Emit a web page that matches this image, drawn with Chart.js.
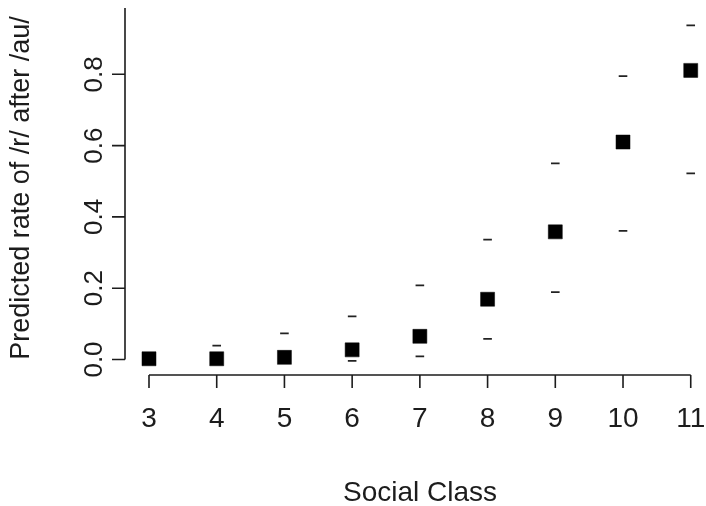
<!DOCTYPE html>
<html>
<head>
<meta charset="utf-8">
<script src="https://cdn.jsdelivr.net/npm/chart.js@4/dist/chart.umd.min.js"></script>
<style>
  html, body { margin: 0; padding: 0; background: #ffffff; }
  #wrap { width: 706px; height: 506px; }
</style>
</head>
<body>
<div id="wrap"><canvas id="c" width="706" height="506"></canvas></div>
<script>
// Social class levels and predicted rates with their interval bounds
const socialClass = [3, 4, 5, 6, 7, 8, 9, 10, 11];
const predicted   = [0.002, 0.002, 0.006, 0.027, 0.065, 0.169, 0.358, 0.610, 0.811];
const upperBound  = [0.012, 0.039, 0.073, 0.121, 0.208, 0.336, 0.550, 0.795, 0.937];
const lowerBound  = [0.000, 0.000, 0.000, -0.004, 0.009, 0.058, 0.189, 0.361, 0.522];

const xTicks = [3, 4, 5, 6, 7, 8, 9, 10, 11];
const yTicks = [0.0, 0.2, 0.4, 0.6, 0.8];
const yTickLabels = ['0.0', '0.2', '0.4', '0.6', '0.8'];
const xTitle = 'Social Class';
const yTitle = 'Predicted rate of /r/ after /au/';

const INK = '#1c1c1c';
const FONT = '"Liberation Sans", Arial, sans-serif';

const toPoints = (ys) => socialClass.map((x, i) => ({ x: x, y: ys[i] }));

// Base-graphics style axes: lines spanning the tick range, outward ticks, rotated y labels
const axesPlugin = {
  id: 'baseAxes',
  afterDraw(chart) {
    const ctx = chart.ctx;
    const xs = chart.scales.x, ys = chart.scales.y;
    const area = chart.chartArea;
    ctx.save();
    ctx.strokeStyle = INK;
    ctx.fillStyle = INK;
    ctx.lineWidth = 1.6;
    ctx.lineCap = 'butt';

    // x axis
    const xAxisY = area.bottom;
    ctx.beginPath();
    ctx.moveTo(xs.getPixelForValue(xTicks[0]), xAxisY);
    ctx.lineTo(xs.getPixelForValue(xTicks[xTicks.length - 1]), xAxisY);
    for (const t of xTicks) {
      const px = xs.getPixelForValue(t);
      ctx.moveTo(px, xAxisY);
      ctx.lineTo(px, xAxisY + 13);
    }
    ctx.stroke();

    ctx.font = '28px ' + FONT;
    ctx.textAlign = 'center';
    ctx.textBaseline = 'alphabetic';
    for (const t of xTicks) {
      ctx.fillText(String(t), xs.getPixelForValue(t), 427);
    }
    ctx.fillText(xTitle, 420, 500.5);

    // y axis
    const yAxisX = area.left;
    ctx.beginPath();
    ctx.moveTo(yAxisX, ys.getPixelForValue(yTicks[0]));
    ctx.lineTo(yAxisX, area.top);
    for (const t of yTicks) {
      const py = ys.getPixelForValue(t);
      ctx.moveTo(yAxisX, py);
      ctx.lineTo(yAxisX - 13, py);
    }
    ctx.stroke();

    ctx.font = '26px ' + FONT;
    yTicks.forEach((t, i) => {
      const py = ys.getPixelForValue(t);
      ctx.save();
      ctx.translate(101.5, py);
      ctx.rotate(-Math.PI / 2);
      ctx.textAlign = 'center';
      ctx.textBaseline = 'alphabetic';
      ctx.fillText(yTickLabels[i], 0, 0);
      ctx.restore();
    });

    ctx.font = '27px ' + FONT;
    ctx.save();
    ctx.translate(28.5, 188);
    ctx.rotate(-Math.PI / 2);
    ctx.textAlign = 'center';
    ctx.textBaseline = 'alphabetic';
    ctx.fillText(yTitle, 0, 0);
    ctx.restore();

    ctx.restore();
  }
};

new Chart(document.getElementById('c'), {
  type: 'scatter',
  data: {
    datasets: [
      {
        label: 'Predicted',
        data: toPoints(predicted),
        pointStyle: 'rect',
        pointRadius: 9.9,
        pointHoverRadius: 9.9,
        backgroundColor: '#000000',
        borderColor: '#000000',
        borderWidth: 0.5
      },
      {
        label: 'Upper',
        data: toPoints(upperBound),
        pointStyle: 'line',
        pointRadius: 4.3,
        pointHoverRadius: 4.3,
        borderColor: '#222222',
        borderWidth: 1.8
      },
      {
        label: 'Lower',
        data: toPoints(lowerBound),
        pointStyle: 'line',
        pointRadius: 4.3,
        pointHoverRadius: 4.3,
        borderColor: '#222222',
        borderWidth: 1.8
      }
    ]
  },
  options: {
    responsive: false,
    animation: false,
    events: [],
    layout: { autoPadding: false, padding: { left: 125, right: 2.2, top: 8, bottom: 131 } },
    plugins: {
      legend: { display: false },
      tooltip: { enabled: false },
      title: { display: false }
    },
    scales: {
      x: { type: 'linear', min: 2.6456, max: 11.193, display: false },
      y: { type: 'linear', min: -0.0435, max: 0.986, display: false }
    }
  },
  plugins: [axesPlugin]
});
</script>
</body>
</html>
